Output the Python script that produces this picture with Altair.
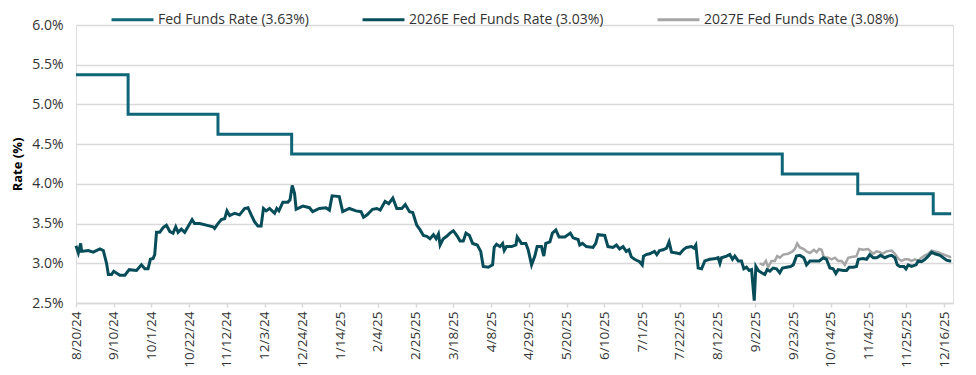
import altair as alt
import pandas as pd

START = "2024-08-20"
END_DAY = 487

series_names = [
    "Fed Funds Rate (3.63%)",
    "2026E Fed Funds Rate (3.03%)",
    "2027E Fed Funds Rate (3.08%)",
]
series_colors = ["#0f6678", "#074c59", "#a6a6a6"]

# Fed funds (midpoint of target range), days since 2024-08-20
fed_days = [0, 29, 79, 120, 393, 435, 477, 487]
fed_vals = [5.375, 4.875, 4.625, 4.375, 4.125, 3.875, 3.625, 3.625]

# 2026E implied rate, days since 2024-08-20
d26_days = [0, 1.3, 2.6, 3.1, 6.8, 9.6, 13.3, 15.2, 17, 18, 19.8, 21, 24.4, 27.2, 29.6,
            33.7, 36.4, 38.3, 40.1, 41.4, 42.9, 43.8, 44.8, 46.6, 48.5, 50.3, 52.2, 54,
            55.5, 56.8, 58.6, 60.5, 62.3, 64.6, 66, 68.8, 72.5, 76.2, 77.1, 79, 80.9, 82.7,
            84, 85.5, 88.3, 91, 93.8, 95.7, 97.5, 99.4, 101.2, 103, 104.3, 105.8, 107.7,
            110.5, 111.7, 112.9, 115.1, 117.9, 119.1, 120.3, 121.6, 122.5, 126.2, 129.9,
            131.7, 135.4, 139.1, 141, 142.5, 146.5, 148.4, 152.1, 155.8, 158.6, 160, 162,
            165, 167.4, 169.3, 172, 174, 176.3, 178.5, 181.3, 183.2, 185.6, 187.4, 189.6,
            191.5, 193.3, 195.2, 197, 198.9, 200.4, 201.7, 202.6, 204.4, 206.3, 208.1, 210,
            212.2, 213.7, 215.5, 217, 218.9, 220.7, 223.3, 225.2, 226.6, 229.4, 231.8, 232.7,
            234, 235.9, 237.4, 238.3, 239.6, 242.4, 244.8, 245.5, 247.9, 250.3, 251.6, 253.5,
            255.3, 256.6, 259, 260.3, 261.4, 263.7, 265.1, 267, 268.8, 272, 275.1, 276.6,
            279.4, 280.3, 281.8, 284, 287.7, 289.2, 290.5, 294.2, 296, 298.8, 300.7, 302.5,
            304.4, 306.2, 307.7, 309, 310.8, 313.6, 315.1, 315.8, 317.3, 319.2, 321.9, 323.2,
            324.7, 326.7, 328.6, 330, 331.4, 334.1, 336, 337.9, 339.7, 342.5, 343.8, 344.9,
            346.2, 348.1, 349.9, 352.7, 356, 357.3, 358.3, 359.2, 362, 363.8, 365.3, 366.6,
            368.5, 370.3, 371.6, 373.1, 374.6, 375.9, 377.4, 378.3, 379.6, 381.5, 383.3,
            384.6, 386.1, 387.9, 389.8, 391.6, 393.1, 395.4, 397.6, 399.1, 400.9, 402.8, 405,
            406.5, 408.4, 411.1, 413.6, 415.8, 417.6, 419.5, 421.3, 422.8, 424.1, 426.9,
            428.8, 430.2, 432.5, 434.3, 435.3, 438, 439.9, 441.7, 443.6, 445.5, 447.7, 450.1,
            452, 453.8, 455.7, 457, 458.4, 460.7, 461.8, 463.1, 464.9, 467.4, 468.7, 470.5,
            472.4, 474.2, 476.1, 477.9, 480.7, 482.6, 484.4, 486.3, 487]
d26_vals = [3.22, 3.13, 3.25, 3.15, 3.16, 3.14, 3.18, 3.16, 3.00, 2.86, 2.86, 2.90, 2.85, 2.85, 2.92,
            2.91, 2.98, 2.93, 2.93, 3.05, 3.06, 3.11, 3.39, 3.39, 3.45, 3.48, 3.40, 3.38,
            3.46, 3.39, 3.43, 3.39, 3.46, 3.55, 3.50, 3.50, 3.48, 3.46, 3.44, 3.50, 3.55, 3.56,
            3.66, 3.60, 3.63, 3.61, 3.69, 3.70, 3.61, 3.52, 3.47, 3.47, 3.69, 3.66, 3.69,
            3.63, 3.69, 3.66, 3.77, 3.77, 3.80, 3.98, 3.88, 3.68, 3.72, 3.70,
            3.65, 3.69, 3.70, 3.67, 3.85, 3.84, 3.65, 3.69, 3.66, 3.65, 3.58, 3.61,
            3.68, 3.69, 3.67, 3.78, 3.75, 3.82, 3.69, 3.69, 3.74, 3.65, 3.64, 3.48,
            3.42, 3.35, 3.34, 3.31, 3.36, 3.31, 3.37, 3.23, 3.31, 3.34, 3.38, 3.41,
            3.34, 3.28, 3.28, 3.38, 3.35, 3.25, 3.23, 3.15, 2.96, 2.95, 2.98, 3.20,
            3.24, 3.21, 3.25, 3.16, 3.21, 3.21, 3.23, 3.33, 3.25, 3.25, 3.17, 2.98,
            3.09, 3.21, 3.21, 3.09, 3.25, 3.27, 3.38, 3.42, 3.33, 3.33, 3.38, 3.32,
            3.30, 3.23, 3.25, 3.21, 3.20, 3.25, 3.36, 3.35, 3.21, 3.20, 3.23, 3.18,
            3.21, 3.15, 3.17, 3.08, 3.05, 3.02, 2.98, 3.09, 3.11, 3.12, 3.15, 3.11,
            3.16, 3.17, 3.19, 3.27, 3.14, 3.13, 3.12, 3.17, 3.20, 3.21, 3.19, 3.23,
            2.94, 2.93, 3.03, 3.05, 3.06, 3.07, 3.00, 3.07, 3.09, 3.11, 3.05, 3.09,
            3.03, 3.03, 2.93, 2.95, 2.91, 2.92, 2.53, 2.96, 2.91, 2.88, 2.86,
            2.92, 2.90, 2.94, 2.93, 2.88, 2.94, 2.95, 2.96, 2.98, 3.09, 3.10, 3.07,
            2.98, 3.03, 3.03, 3.03, 3.07, 3.05, 2.94, 2.93, 2.87, 2.92, 2.91,
            2.91, 2.95, 2.95, 2.96, 3.05, 3.06, 3.05, 3.11, 3.07, 3.07, 3.10, 3.07,
            3.09, 3.10, 3.07, 2.98, 2.96, 2.96, 2.93, 2.98, 2.96, 2.98, 3.03, 3.02,
            3.05, 3.09, 3.14, 3.12, 3.10, 3.07, 3.04, 3.03, 3.03]

# 2027E implied rate, days since 2024-08-20
d27_days = [380.5, 382.4, 383.9, 385.1, 387, 388.9, 390.2, 391.7, 393.5, 396.3, 398.7, 400,
            401.3, 402.8, 405, 406.5, 408.4, 410.6, 412.1, 413.6, 414.9, 416.1, 418.5, 420.4,
            422.3, 424.1, 426, 427.8, 429.7, 431.5, 434.3, 435.8, 438, 440.8, 442.1, 443.6,
            445.5, 447.3, 448.8, 451, 453.8, 455.7, 457.5, 459.4, 461.2, 463.1, 464.9, 466.8,
            468.7, 470.5, 472.4, 474.2, 476.1, 477.9, 479.8, 481.6, 484.1, 486.3, 487]
d27_vals = [3.00, 2.98, 3.03, 2.95, 3.03, 3.03, 3.09, 3.07, 3.11, 3.12, 3.15, 3.18,
            3.25, 3.20, 3.18, 3.15, 3.13, 3.17, 3.14, 3.18, 3.17, 3.08, 3.07, 3.05,
            3.07, 3.03, 3.03, 2.98, 3.07, 3.08, 3.09, 3.18, 3.17, 3.18, 3.15, 3.12,
            3.15, 3.14, 3.12, 3.15, 3.16, 3.12, 3.06, 3.03, 3.05, 3.05, 3.03, 3.05,
            3.03, 3.07, 3.10, 3.12, 3.16, 3.15, 3.14, 3.12, 3.10, 3.08, 3.08]

tick_dates = ["2024-08-20", "2024-09-10", "2024-10-01", "2024-10-22", "2024-11-12",
              "2024-12-03", "2024-12-24", "2025-01-14", "2025-02-04", "2025-02-25",
              "2025-03-18", "2025-04-08", "2025-04-29", "2025-05-20", "2025-06-10",
              "2025-07-01", "2025-07-22", "2025-08-12", "2025-09-02", "2025-09-23",
              "2025-10-14", "2025-11-04", "2025-11-25", "2025-12-16"]
y_ticks = [2.5, 3.0, 3.5, 4.0, 4.5, 5.0, 5.5, 6.0]

start = pd.Timestamp(START)


def frame(days, vals, name, order):
    return pd.DataFrame({
        "date": [start + pd.to_timedelta(d, unit="D") for d in days],
        "rate": vals,
        "series": name,
        "order": order,
    })


df_fed = frame(fed_days, fed_vals, series_names[0], 0)
df_26 = frame(d26_days, d26_vals, series_names[1], 1)
df_27 = frame(d27_days, d27_vals, series_names[2], 2)

FONT = "Open Sans"
TEXT = "#333333"
domain_end = (start + pd.to_timedelta(END_DAY + 1, unit="D")).strftime("%Y-%m-%d")

x_enc = alt.X(
    "date:T",
    scale=alt.Scale(domain=[START, domain_end]),
    axis=alt.Axis(
        values=[pd.Timestamp(t).isoformat() for t in tick_dates],
        format="%-m/%-d/%y",
        labelAngle=270,
        labelFont=FONT,
        labelFontSize=13.5,
        labelColor=TEXT,
        labelPadding=4,
        tickColor="#d9d9d9",
        tickSize=4,
        tickWidth=1.5,
        domainColor="#d9d9d9",
        domainWidth=1.5,
        grid=False,
        title=None,
    ),
)
y_enc = alt.Y(
    "rate:Q",
    scale=alt.Scale(domain=[2.5, 6.0], nice=False, zero=False),
    axis=alt.Axis(
        values=y_ticks,
        labelExpr="format(datum.value, '.1f') + '%'",
        labelFont=FONT,
        labelFontSize=14,
        labelColor=TEXT,
        labelPadding=13,
        ticks=False,
        domain=False,
        gridColor="#d9d9d9",
        gridWidth=1.5,
        title="Rate (%)",
        titleFont=FONT,
        titleFontSize=13,
        titleFontWeight="bold",
        titleColor="#000000",
        titlePadding=7,
    ),
)
color_enc = alt.Color(
    "series:N",
    scale=alt.Scale(domain=series_names, range=series_colors),
    legend=alt.Legend(
        orient="none",
        direction="horizontal",
        legendX=34,
        legendY=-28,
        title=None,
        symbolType="stroke",
        symbolSize=1760,
        symbolStrokeWidth=3,
        labelFont=FONT,
        labelFontSize=14,
        labelColor=TEXT,
        labelLimit=0,
        labelOffset=3,
        columnPadding=47,
    ),
)

fed = alt.Chart(df_fed).mark_line(strokeWidth=3, interpolate="step-after").encode(
    x=x_enc, y=y_enc, color=color_enc)
l26 = alt.Chart(df_26).mark_line(strokeWidth=3).encode(x=x_enc, y=y_enc, color=color_enc)
l27 = alt.Chart(df_27).mark_line(strokeWidth=2.5).encode(x=x_enc, y=y_enc, color=color_enc)

chart = alt.layer(fed, l27, l26).properties(
    width=877,
    height=278,
    autosize=alt.AutoSizeParams(type="none"),
    padding={"left": 68, "top": 17, "right": 15, "bottom": 72},
).configure_view(stroke=None).configure(background="white")

chart.save("out.html", embed_options={"renderer": "svg", "actions": False})
